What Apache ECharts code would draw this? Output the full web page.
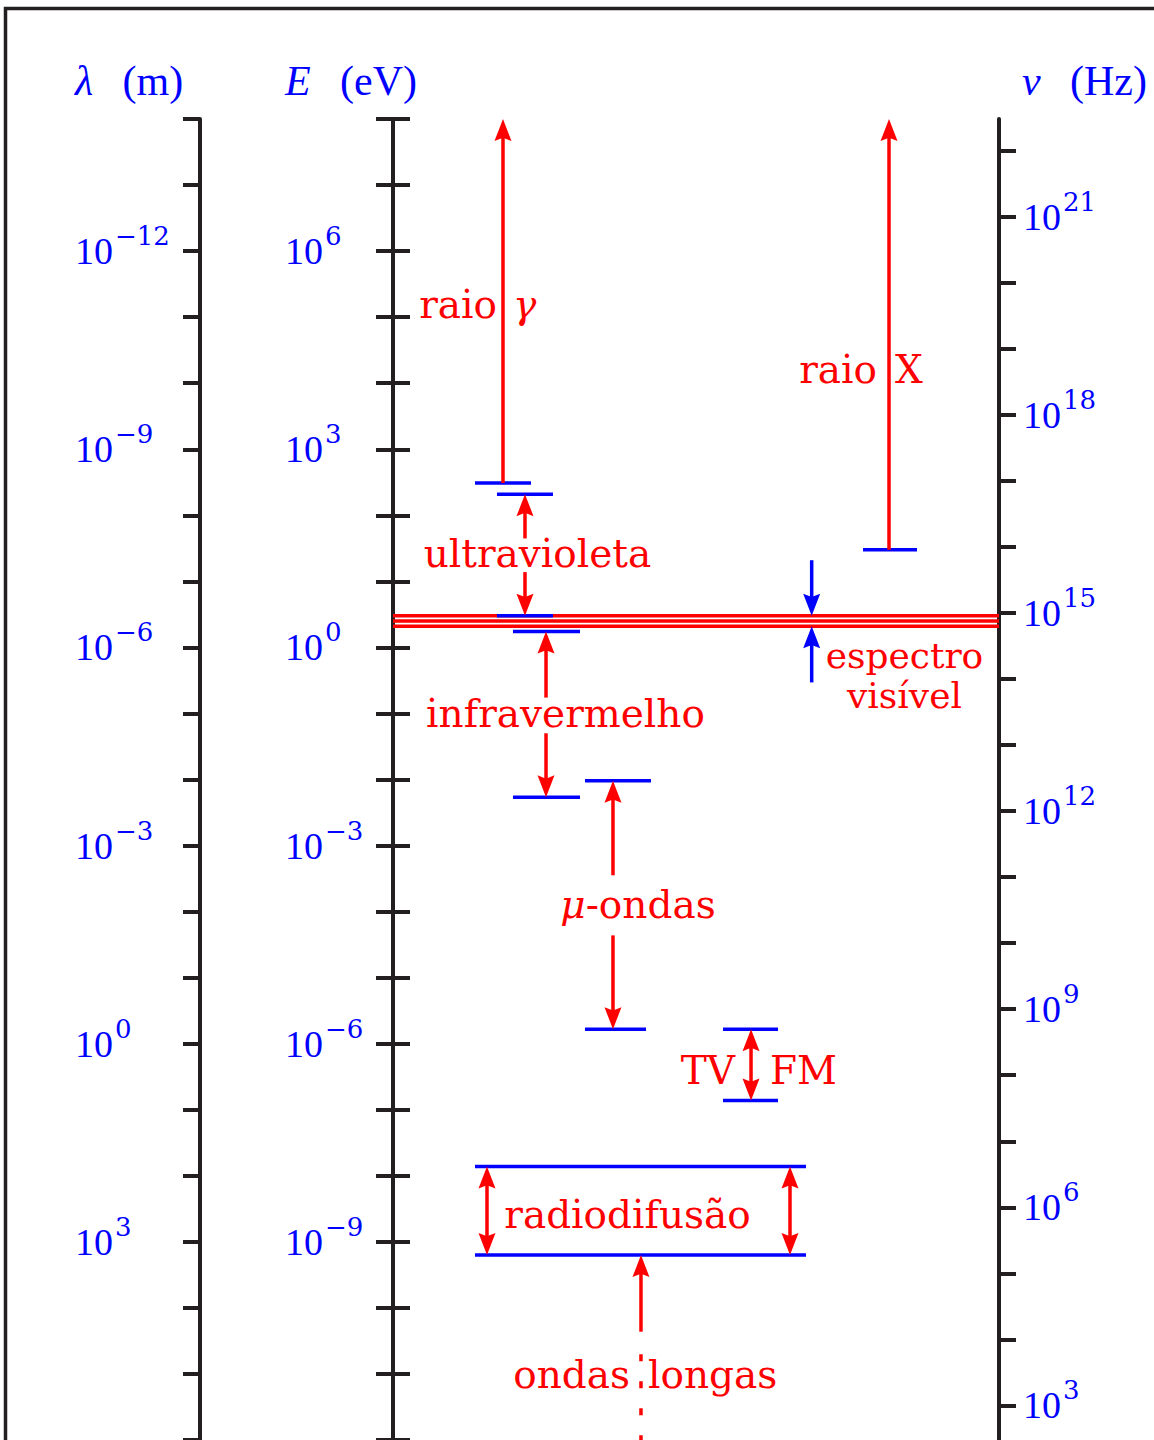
<!DOCTYPE html>
<html><head><meta charset="utf-8">
<script src="https://cdn.jsdelivr.net/npm/echarts@6/dist/echarts.min.js"></script>
<style>html,body{margin:0;padding:0;background:#fff;}#chart{width:1154px;height:1440px;}</style>
</head><body><div id="chart"></div>
<script>
// ---------------- data (all vertical values are log10 of wavelength in metres) ----------------
const lambdaRange = [-14, 6];          // log10 λ (m), top -> bottom
const energyRange = [-12, 8];          // log10 E (eV)
const freqRange = [2.477, 22.477];     // log10 ν (Hz)
const lambdaTicks = [-14,-13,-12,-11,-10,-9,-8,-7,-6,-5,-4,-3,-2,-1,0,1,2,3,4,5,6];
const lambdaLabels = [-12,-9,-6,-3,0,3];
const energyTicks = [-12,-11,-10,-9,-8,-7,-6,-5,-4,-3,-2,-1,0,1,2,3,4,5,6,7,8];
const energyLabels = [6,3,0,-3,-6,-9];
const freqTicks = [3,4,5,6,7,8,9,10,11,12,13,14,15,16,17,18,19,20,21,22];
const freqLabels = [21,18,15,12,9,6,3];

// band boundary bars: [column from, column to, log10 λ]
const bandBars = [
  [13.53, 22.77, -8.49],   // gamma lower limit
  [17.16, 26.40, -8.32],   // UV upper
  [17.16, 26.40, -6.48],   // UV lower
  [19.80, 30.86, -6.24],   // IR upper
  [19.80, 30.86, -3.73],   // IR lower
  [31.68, 42.57, -3.98],   // microwave upper
  [31.68, 41.75, -0.22],   // microwave lower
  [54.46, 63.53, -0.22],   // TV/FM upper
  [54.46, 63.53, 0.86],    // TV/FM lower
  [13.53, 68.15, 1.86],    // broadcast upper
  [13.53, 68.15, 3.20],    // broadcast lower
  [77.56, 86.47, -7.48]    // X-ray lower limit
];
// visible spectrum lines (log10 λ)
const visibleLines = [-6.48, -6.40, -6.32];
// red arrows: [column, log λ start, log λ end, head at start, head at end, gap start, gap end]
const redArrows = [
  [18.15, -8.49, -14, 0, 1, null, null],     // raio γ
  [81.85, -7.48, -14, 0, 1, null, null],     // raio X
  [21.78, -8.32, -6.48, 1, 1, -7.65, -7.14], // ultravioleta
  [25.25, -6.24, -3.73, 1, 1, -5.24, -4.70], // infravermelho
  [36.30, -3.98, -0.22, 1, 1, -2.55, -1.64], // micro-ondas
  [59.08, -0.22, 0.86, 1, 1, null, null],    // TV FM
  [15.51, 1.86, 3.20, 1, 1, null, null],     // radiodifusão (left)
  [65.51, 1.86, 3.20, 1, 1, null, null],     // radiodifusão (right)
  [40.92, 3.20, 4.36, 1, 0, null, null]      // ondas longas
];
// blue arrows marking the visible band
const blueArrows = [
  [69.09, -7.32, -6.48, 0, 1, null, null],
  [69.09, -5.47, -6.32, 0, 1, null, null]
];
// dotted continuation of the long-wave arrow: [column, from, to]
const dottedTails = [[40.92, 4.70, 6]];
// labels: [column, log λ, text, align]
const bandLabels = [
  [17.16, -11.19, 'raio', 'right'],
  [19.80, -11.19, '{i|γ}', 'left'],
  [79.87, -10.20, 'raio', 'right'],
  [82.84, -10.20, 'X', 'left'],
  [23.84, -7.42, 'ultravioleta', 'center'],
  [84.40, -5.576, 'espectro\nvisível', 'center'],
  [28.47, -5.00, 'infravermelho', 'center'],
  [40.43, -2.10, '{i|μ}-ondas', 'center'],
  [56.44, 0.40, 'TV', 'right'],
  [62.21, 0.40, 'FM', 'left'],
  [38.70, 2.59, 'radiodifusão', 'center'],
  [39.11, 5.01, 'ondas', 'right'],
  [42.08, 5.01, 'longas', 'left']
];
// axis titles
const axisTitles = [
  {sym: 'λ', unit: 'm'},
  {sym: 'E', unit: 'eV'},
  {sym: 'ν', unit: 'Hz'}
];

// ---------------- styling ----------------
const BLUE = '#0000ff', RED = '#ff0000', INK = '#231f20';
const NUM_FONT = 'Liberation Serif';
const WORD_FONT = 'DejaVu Serif';
const LW = 3.5;

function powLabel(v) {
  const e = v < 0 ? '\u2212' + (-v) : String(v);
  return '{b|10}{s|' + e + '}';
}
const powRich = {
  b: {fontFamily: NUM_FONT, fontSize: 38, color: BLUE, lineHeight: 56, verticalAlign: 'middle'},
  s: {fontFamily: WORD_FONT, fontSize: 26, color: BLUE, lineHeight: 34, verticalAlign: 'top', padding: [0, 0, 0, 2]}
};
const axisLineStyle = {color: INK, width: 4};

function head(tip, dir, color) { // dir +1: pointing down (pixels)
  const L = 22, W = 8.5;
  return {type: 'polygon', shape: {points: [
    [tip[0], tip[1]], [tip[0] - W, tip[1] - dir * L], [tip[0], tip[1] - dir * L * 0.85], [tip[0] + W, tip[1] - dir * L]
  ]}, style: {fill: color}};
}
function arrowRender(list, color) {
  return function (params, api) {
    const a = list[params.dataIndex];
    const p1 = api.coord([a[0], a[1]]);
    const p2 = api.coord([a[0], a[2]]);
    const dir = p2[1] > p1[1] ? 1 : -1;
    const s = [p1[0], a[3] ? p1[1] + dir * 17 : p1[1]];
    const e = [p2[0], a[4] ? p2[1] - dir * 17 : p2[1]];
    const segs = [];
    if (a[5] != null) {
      const g1 = api.coord([a[0], a[5]]), g2 = api.coord([a[0], a[6]]);
      segs.push([s, g1], [g2, e]);
    } else segs.push([s, e]);
    const children = segs.map(sg => ({type: 'line', shape: {x1: sg[0][0], y1: sg[0][1], x2: sg[1][0], y2: sg[1][1]},
      style: {stroke: color, lineWidth: LW}}));
    if (a[3]) children.push(head(p1, -dir, color));
    if (a[4]) children.push(head(p2, dir, color));
    return {type: 'group', children};
  };
}

const chart = echarts.init(document.getElementById('chart'), null, {renderer: 'svg'});
chart.setOption({
  animation: false,
  backgroundColor: '#fff',
  grid: {left: 393, right: 155, top: 119, bottom: 0},
  xAxis: {type: 'value', min: 0, max: 100, show: false},
  yAxis: [
    { // λ
      type: 'value', position: 'left', offset: 193, inverse: true,
      min: lambdaRange[0], max: lambdaRange[1],
      axisLine: {show: true, onZero: false, lineStyle: axisLineStyle},
      axisTick: {show: true, inside: false, length: 17, customValues: lambdaTicks, lineStyle: axisLineStyle},
      axisLabel: {show: true, customValues: lambdaLabels, formatter: powLabel, rich: powRich, align: 'left', margin: 125},
      splitLine: {show: false}
    },
    { // E (outer ticks and labels)
      type: 'value', position: 'left', offset: 0,
      min: energyRange[0], max: energyRange[1],
      axisLine: {show: true, onZero: false, lineStyle: axisLineStyle},
      axisTick: {show: true, inside: false, length: 17, customValues: energyTicks, lineStyle: axisLineStyle},
      axisLabel: {show: true, customValues: energyLabels, formatter: powLabel, rich: powRich, align: 'left', margin: 108},
      splitLine: {show: false}
    },
    { // E (inner ticks)
      type: 'value', position: 'left', offset: 0,
      min: energyRange[0], max: energyRange[1],
      axisLine: {show: false},
      axisTick: {show: true, inside: true, length: 17, customValues: energyTicks, lineStyle: axisLineStyle},
      axisLabel: {show: false},
      splitLine: {show: false}
    },
    { // ν
      type: 'value', position: 'right', offset: 0,
      min: freqRange[0], max: freqRange[1],
      axisLine: {show: true, onZero: false, lineStyle: axisLineStyle},
      axisTick: {show: true, inside: false, length: 17, customValues: freqTicks, lineStyle: axisLineStyle},
      axisLabel: {show: true, customValues: freqLabels, formatter: powLabel, rich: powRich, align: 'left', margin: 24},
      splitLine: {show: false}
    }
  ],
  graphic: [
    {type: 'polyline', shape: {points: [[5.5, 1440], [5.5, 8.5], [1154, 8.5]]},
      style: {stroke: INK, lineWidth: 3.5, fill: null}, silent: true}
  ].concat(axisTitles.map((t, i) => ({
    type: 'text', x: [75, 285, 1022][i], y: 81,
    style: {text: '{i|' + t.sym + '}\u00a0\u2009 (' + t.unit + ')', fill: BLUE, fontFamily: NUM_FONT, fontSize: 42,
      verticalAlign: 'middle', align: 'left',
      rich: {i: {fontStyle: 'italic', fontFamily: NUM_FONT, fontSize: 42, fill: BLUE, color: BLUE}}}
  }))),
  series: [
    { // visible band lines
      type: 'custom', xAxisIndex: 0, yAxisIndex: 0, clip: false, silent: true,
      data: visibleLines.map(v => [0, v]),
      renderItem: (params, api) => {
        const y = visibleLines[params.dataIndex];
        const a = api.coord([0, y]), b = api.coord([100, y]);
        return {type: 'line', shape: {x1: a[0], y1: a[1], x2: b[0], y2: b[1]}, style: {stroke: RED, lineWidth: LW}};
      }
    },
    { // band boundary bars
      type: 'custom', xAxisIndex: 0, yAxisIndex: 0, clip: false, silent: true,
      data: bandBars.map(b => [b[0], b[2]]),
      renderItem: (params, api) => {
        const b = bandBars[params.dataIndex];
        const a = api.coord([b[0], b[2]]), c = api.coord([b[1], b[2]]);
        return {type: 'line', shape: {x1: a[0], y1: a[1], x2: c[0], y2: c[1]}, style: {stroke: BLUE, lineWidth: LW}};
      }
    },
    {
      type: 'custom', xAxisIndex: 0, yAxisIndex: 0, clip: false, silent: true,
      data: redArrows.map(a => [a[0], a[1]]),
      renderItem: arrowRender(redArrows, RED)
    },
    {
      type: 'custom', xAxisIndex: 0, yAxisIndex: 0, clip: false, silent: true,
      data: blueArrows.map(a => [a[0], a[1]]),
      renderItem: arrowRender(blueArrows, BLUE)
    },
    { // dotted tail
      type: 'custom', xAxisIndex: 0, yAxisIndex: 0, clip: false, silent: true,
      data: dottedTails.map(d => [d[0], d[1]]),
      renderItem: (params, api) => {
        const d = dottedTails[params.dataIndex];
        const a = api.coord([d[0], d[1]]), b = api.coord([d[0], d[2]]);
        return {type: 'line', shape: {x1: a[0], y1: a[1], x2: b[0], y2: b[1]},
          style: {stroke: RED, lineWidth: LW, lineDash: [7, 20]}};
      }
    },
    { // labels
      type: 'custom', xAxisIndex: 0, yAxisIndex: 0, clip: false, silent: true,
      data: bandLabels.map(l => [l[0], l[1]]),
      renderItem: (params, api) => {
        const l = bandLabels[params.dataIndex];
        const p = api.coord([l[0], l[1]]);
        const two = l[2].indexOf('\n') >= 0;
        const fs = two ? 36 : 39, lh = two ? 40 : 39;
        return {type: 'text', x: p[0], y: p[1], style: {
          text: l[2], fill: RED, fontFamily: WORD_FONT, fontSize: fs, lineHeight: lh, align: l[3], verticalAlign: 'middle',
          rich: {i: {fontStyle: 'italic', fontFamily: WORD_FONT, fontSize: fs, lineHeight: lh, fill: RED, color: RED}}
        }};
      }
    }
  ]
});
</script>
</body></html>
